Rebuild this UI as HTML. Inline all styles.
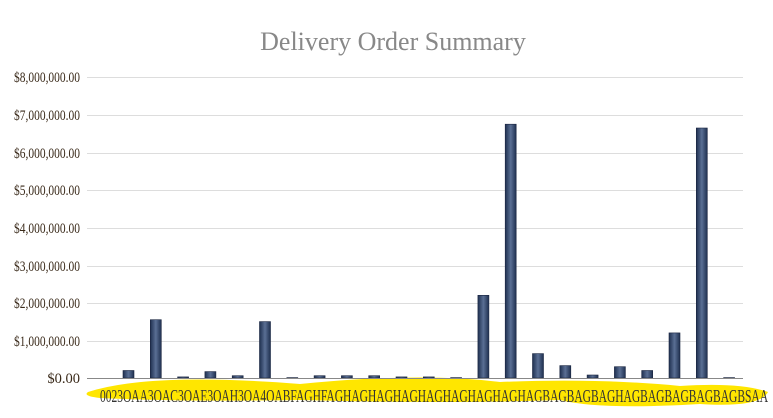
<!DOCTYPE html><html><head><style>body{margin:0;background:#fff}</style></head><body>
<svg width="773" height="413" xmlns="http://www.w3.org/2000/svg" font-family="Liberation Serif, serif">
<defs><linearGradient id="g" x1="0" x2="1"><stop offset="0" stop-color="#1f3050"/><stop offset=".5" stop-color="#5a6f94"/><stop offset="1" stop-color="#1f3050"/></linearGradient></defs>
<text x="393" y="50" text-anchor="middle" font-size="26" fill="#888">Delivery Order Summary</text>
<g stroke="#ddd" stroke-width="1">
<line x1="87" x2="743" y1="77.5" y2="77.5"/><line x1="87" x2="743" y1="115.5" y2="115.5"/><line x1="87" x2="743" y1="153.5" y2="153.5"/><line x1="87" x2="743" y1="190.5" y2="190.5"/><line x1="87" x2="743" y1="228.5" y2="228.5"/><line x1="87" x2="743" y1="266.5" y2="266.5"/><line x1="87" x2="743" y1="303.5" y2="303.5"/><line x1="87" x2="743" y1="341.5" y2="341.5"/>
</g>
<g font-size="14.5" fill="#3a2a1a">
<text x="14" y="82" textLength="66" lengthAdjust="spacingAndGlyphs">$8,000,000.00</text>
<text x="14" y="120" textLength="66" lengthAdjust="spacingAndGlyphs">$7,000,000.00</text>
<text x="14" y="158" textLength="66" lengthAdjust="spacingAndGlyphs">$6,000,000.00</text>
<text x="14" y="195" textLength="66" lengthAdjust="spacingAndGlyphs">$5,000,000.00</text>
<text x="14" y="233" textLength="66" lengthAdjust="spacingAndGlyphs">$4,000,000.00</text>
<text x="14" y="271" textLength="66" lengthAdjust="spacingAndGlyphs">$3,000,000.00</text>
<text x="14" y="308" textLength="66" lengthAdjust="spacingAndGlyphs">$2,000,000.00</text>
<text x="14" y="346" textLength="66" lengthAdjust="spacingAndGlyphs">$1,000,000.00</text>
<text x="80" y="383" text-anchor="end">$0.00</text>
</g>
<path d="M88 392 Q150 372 300 384 Q420 372 500 382 Q600 378 680 386 Q740 382 768 392 Q760 408 700 404 Q600 410 560 400 Q450 404 300 400 Q180 402 100 398 Q82 396 88 392Z" fill="#ffe600"/>
<g fill="url(#g)" stroke="#1a2540" stroke-width="0.6">
<rect x="123" y="370.5" width="11" height="7.5"/>
<rect x="150.3" y="319.7" width="11" height="58.3"/>
<rect x="177.6" y="376.9" width="11" height="1.1"/>
<rect x="204.9" y="371.6" width="11" height="6.4"/>
<rect x="232.2" y="375.7" width="11" height="2.3"/>
<rect x="259.5" y="321.6" width="11" height="56.4"/>
<rect x="286.8" y="377.6" width="11" height="0.4"/>
<rect x="314.1" y="375.7" width="11" height="2.3"/>
<rect x="341.4" y="375.7" width="11" height="2.3"/>
<rect x="368.7" y="375.7" width="11" height="2.3"/>
<rect x="396" y="376.9" width="11" height="1.1"/>
<rect x="423.3" y="376.9" width="11" height="1.1"/>
<rect x="450.6" y="377.6" width="11" height="0.4"/>
<rect x="477.9" y="295.3" width="11" height="82.7"/>
<rect x="505.2" y="124.2" width="11" height="253.8"/>
<rect x="532.5" y="353.6" width="11" height="24.4"/>
<rect x="559.8" y="365.6" width="11" height="12.4"/>
<rect x="587.1" y="375" width="11" height="3"/>
<rect x="614.4" y="366.7" width="11" height="11.3"/>
<rect x="641.7" y="370.5" width="11" height="7.5"/>
<rect x="669" y="332.9" width="11" height="45.1"/>
<rect x="696.3" y="128" width="11" height="250"/>
<rect x="723.6" y="377.6" width="11" height="0.4"/>
</g>
<line x1="87" x2="743" y1="378.5" y2="378.5" stroke="#888"/>
<text x="100" y="402" font-size="18" fill="#333" textLength="668" lengthAdjust="spacingAndGlyphs">0023OAA3OAC3OAE3OAH3OA4OABFAGHFAGHAGHAGHAGHAGHAGHAGHAGHAGBAGBAGBAGHAGBAGBAGBAGBAGBSAA</text>
</svg></body></html>
